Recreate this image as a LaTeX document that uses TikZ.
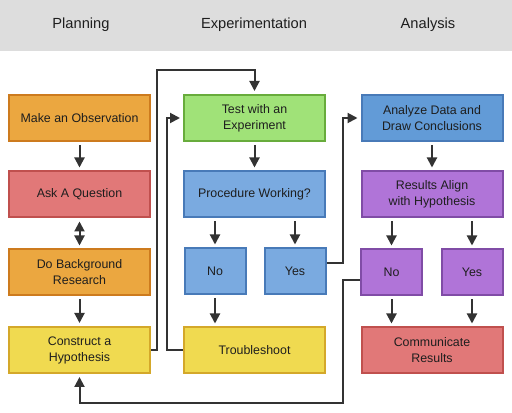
\documentclass[tikz,border=0pt]{standalone}
\usepackage{fontspec}
\setmainfont{Liberation Sans}
\usetikzlibrary{arrows.meta}
\definecolor{orangeF}{RGB}{235,167,64}
\definecolor{orangeD}{RGB}{205,123,30}
\definecolor{redF}{RGB}{225,120,120}
\definecolor{redD}{RGB}{192,80,78}
\definecolor{yellowF}{RGB}{240,218,80}
\definecolor{yellowD}{RGB}{212,168,42}
\definecolor{greenF}{RGB}{160,226,120}
\definecolor{greenD}{RGB}{104,172,60}
\definecolor{blueF}{RGB}{122,170,224}
\definecolor{anaF}{RGB}{98,155,215}
\definecolor{blueD}{RGB}{72,122,184}
\definecolor{purpleF}{RGB}{176,116,216}
\definecolor{purpleD}{RGB}{128,76,166}
\definecolor{lineC}{RGB}{51,51,51}
\definecolor{headC}{RGB}{221,221,221}
\definecolor{textC}{RGB}{30,30,30}
\begin{document}
\begin{tikzpicture}[x=0.75pt,y=0.75pt,yscale=-1,xscale=1,
  box/.style={draw,line width=1.5pt,minimum width=105.75pt,minimum height=34.5pt,inner sep=0pt,align=center,text=textC,font=\fontsize{9.3}{12}\selectfont},
  small/.style={box,minimum width=45.75pt},
  head/.style={text=textC,font=\fontsize{11}{13}\selectfont},
  flow/.style={draw=lineC,line width=1.5pt,-{Triangle[length=7.5pt,width=7.5pt]}},
  both/.style={{Triangle[length=7.5pt,width=7.5pt]}-{Triangle[length=7.5pt,width=7.5pt]}},
  gap/.style={shorten <=2.25pt,shorten >=2.25pt}]
\useasboundingbox (0,0) rectangle (512,413);
% header band
\fill[headC] (0,0) rectangle (512,51);
\node[head] (hplan) at (81,25) {Planning};
\node[head] (hexp) at (254,25) {Experimentation};
\node[head] (hana) at (428,25) {Analysis};

% Planning
\node[box,fill=orangeF,draw=orangeD] (obs) at (79.5,118) {Make an Observation};
\node[box,fill=redF,draw=redD] (ask) at (79.5,194.5) {Ask A Question};
\node[box,fill=orangeF,draw=orangeD] (bgr) at (79.5,272.5) {Do Background\\Research};
\node[box,fill=yellowF,draw=yellowD] (hyp) at (79.5,350) {Construct a\\Hypothesis};

% Experimentation
\node[box,fill=greenF,draw=greenD] (test) at (254.5,118) {Test with an\\Experiment};
\node[box,fill=blueF,draw=blueD] (proc) at (254.5,194.5) {Procedure Working?};
\node[small,fill=blueF,draw=blueD] (pno) at (215,271.5) {No};
\node[small,fill=blueF,draw=blueD] (pyes) at (295,271.5) {Yes};
\node[box,fill=yellowF,draw=yellowD] (trbl) at (254.5,350.5) {Troubleshoot};

% Analysis
\node[box,fill=anaF,draw=blueD] (ana) at (432,118) {Analyze Data and\\Draw Conclusions};
\node[box,fill=purpleF,draw=purpleD] (res) at (432,194.5) {Results Align\\with Hypothesis};
\node[small,fill=purpleF,draw=purpleD] (rno) at (391.5,272.5) {No};
\node[small,fill=purpleF,draw=purpleD] (ryes) at (472,272.5) {Yes};
\node[box,fill=redF,draw=redD] (comm) at (432,350.5) {Communicate\\Results};

% loop corners
\coordinate (topA) at (157,70);
\coordinate (loopA) at (167,118);
\coordinate (loopB) at (343,118);
\coordinate (loopC) at (343,403);

% straight arrows
\draw[flow,gap] (obs) -- (ask);
\draw[flow,gap,both] (ask) -- (bgr);
\draw[flow,gap] (bgr) -- (hyp);
\draw[flow,gap] (test) -- (proc);
\draw[flow,gap] (pno.north |- proc.south) -- (pno);
\draw[flow,gap] (pyes.north |- proc.south) -- (pyes);
\draw[flow,gap] (pno) -- (pno.south |- trbl.north);
\draw[flow,gap] (ana) -- (res);
\draw[flow,gap] (rno.north |- res.south) -- (rno);
\draw[flow,gap] (ryes.north |- res.south) -- (ryes);
\draw[flow,gap] (rno) -- (rno.south |- comm.north);
\draw[flow,gap] (ryes) -- (ryes.south |- comm.north);

% loops
\draw[flow,shorten >=2.25pt] (hyp.east) -| (topA) -| (test.north);
\draw[flow,shorten >=2.25pt] (trbl.west) -| (loopA) -- (test.west);
\draw[flow,shorten >=2.25pt] (pyes.15) -| (loopB) -- (ana.west);
\draw[flow,shorten >=2.25pt] (rno.194) -| (loopC) -| (hyp.south);
\end{tikzpicture}
\end{document}
